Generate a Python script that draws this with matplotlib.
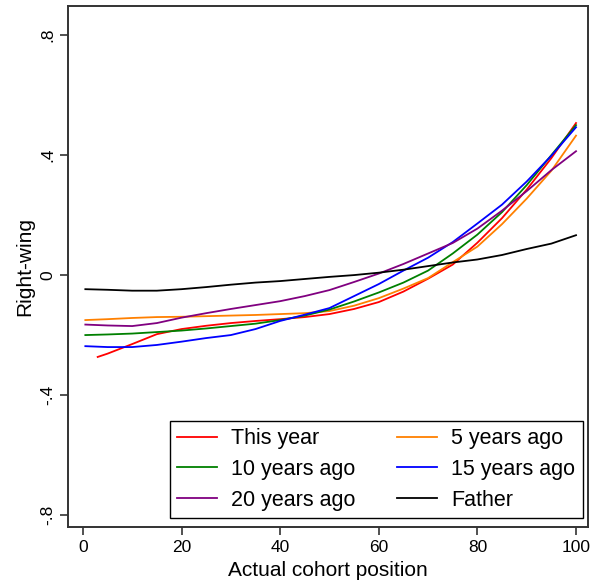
import matplotlib
matplotlib.use("Agg")
import matplotlib.pyplot as plt

plt.rcParams['font.family'] = ['Liberation Sans', 'DejaVu Sans']

# cohort position grid (red series starts a bit later)
x_pos = [0.5, 5, 10, 15, 20, 25, 30, 35, 40, 45, 50, 55, 60, 65, 70, 75, 80, 85, 90, 95, 100]
x_red = [3, 5, 10, 15, 20, 25, 30, 35, 40, 45, 50, 55, 60, 65, 70, 75, 80, 85, 90, 95, 100]

this_year = [-0.273, -0.262, -0.230, -0.197, -0.180, -0.169, -0.160, -0.153, -0.147, -0.140, -0.130,
             -0.113, -0.090, -0.055, -0.012, 0.035, 0.108, 0.190, 0.285, 0.390, 0.507]
five_ago = [-0.150, -0.147, -0.143, -0.140, -0.139, -0.137, -0.135, -0.133, -0.130, -0.127, -0.120,
            -0.102, -0.077, -0.045, -0.010, 0.043, 0.095, 0.170, 0.255, 0.348, 0.465]
ten_ago = [-0.200, -0.198, -0.195, -0.190, -0.185, -0.178, -0.170, -0.162, -0.150, -0.135, -0.115,
           -0.088, -0.058, -0.025, 0.015, 0.072, 0.135, 0.210, 0.300, 0.400, 0.500]
fifteen_ago = [-0.237, -0.240, -0.240, -0.233, -0.222, -0.210, -0.200, -0.180, -0.153, -0.132, -0.110,
               -0.070, -0.030, 0.015, 0.058, 0.110, 0.172, 0.235, 0.312, 0.398, 0.493]
twenty_ago = [-0.165, -0.168, -0.170, -0.160, -0.142, -0.127, -0.113, -0.100, -0.087, -0.070, -0.050,
              -0.023, 0.005, 0.037, 0.072, 0.107, 0.155, 0.215, 0.280, 0.350, 0.413]
father = [-0.047, -0.049, -0.052, -0.052, -0.047, -0.040, -0.032, -0.025, -0.020, -0.013, -0.006,
          0.000, 0.008, 0.018, 0.030, 0.042, 0.052, 0.067, 0.087, 0.105, 0.133]

fig = plt.figure(figsize=(5.92, 5.84), dpi=100)
ax = fig.add_axes([0.115, 0.0976, 0.878, 0.892])

lw = 1.3
l1, = ax.plot(x_red, this_year, color="#ff0000", lw=lw, label="This year")
l2, = ax.plot(x_pos, five_ago, color="#ff8000", lw=lw, label="5 years ago")
l3, = ax.plot(x_pos, ten_ago, color="#008000", lw=lw, label="10 years ago")
l4, = ax.plot(x_pos, fifteen_ago, color="#0000ff", lw=lw, label="15 years ago")
l5, = ax.plot(x_pos, twenty_ago, color="#800080", lw=lw, label="20 years ago")
l6, = ax.plot(x_pos, father, color="black", lw=lw, label="Father")

ax.set_xlim(-3.0, 102.4)
ax.set_ylim(-0.84, 0.897)
ax.set_xticks([0, 20, 40, 60, 80, 100])
ax.set_yticks([-0.8, -0.4, 0, 0.4, 0.8])
ax.set_yticklabels(["-.8", "-.4", "0", ".4", ".8"], rotation=90, va="center")
ax.tick_params(labelsize=12.5, length=6, width=1.2, color="#333333")

for s in ax.spines.values():
    s.set_linewidth(1.4)
    s.set_color("#333333")

ax.set_xlabel("Actual cohort position", fontsize=15, labelpad=4)
ax.set_ylabel("Right-wing", fontsize=15, labelpad=4)

# row-wise legend order like the original
handles = [l1, l3, l5, l2, l4, l6]
leg = ax.legend(handles, [h.get_label() for h in handles], ncol=2, loc="lower right",
                bbox_to_anchor=(0.99, 0.017), borderaxespad=0,
                fontsize=15.5, handlelength=1.85, handletextpad=0.65, columnspacing=1.95,
                labelspacing=0.45, fancybox=False, framealpha=1, edgecolor="black",
                borderpad=0.35)
leg.get_frame().set_linewidth(1.0)

fig.savefig("out.png", dpi=100)
